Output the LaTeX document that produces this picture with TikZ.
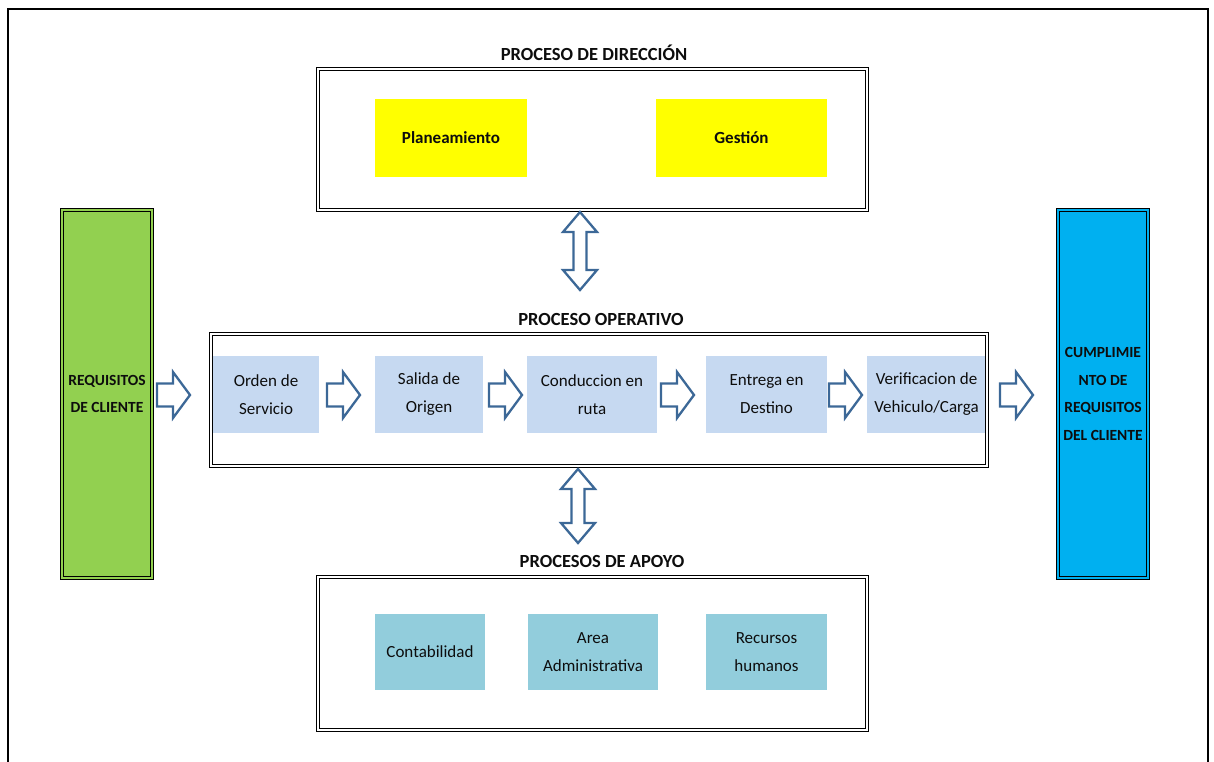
\documentclass[tikz,border=0pt]{standalone}
\usepackage{fontspec}
\setmainfont{Carlito}
\definecolor{reqgreen}{HTML}{92D050}
\definecolor{cumblue}{HTML}{00B0F0}
\definecolor{opblue}{HTML}{C6D9F1}
\definecolor{suppteal}{HTML}{92CDDC}
\definecolor{mgmtyellow}{HTML}{FFFF00}
\definecolor{arrowblue}{HTML}{3C6897}
\definecolor{ink}{HTML}{0D0D0D}
\begin{document}
\begin{tikzpicture}[x=1pt,y=-1pt,
  frame/.style={draw=black, line width=1.3pt, double=#1, double distance=1.5pt,
    inner sep=0pt, outer sep=0pt, align=center, text=ink},
  frame/.default=white,
  cell/.style={inner sep=0pt, outer sep=0pt, align=center, text=ink,
    font=\fontsize{17}{28}\selectfont},
  boldcell/.style={cell, font=\bfseries\fontsize{17}{28}\selectfont},
  sidebox/.style={font=\bfseries\fontsize{15.5}{27.5}\selectfont},
  title/.style={font=\bfseries\fontsize{18.5}{22}\selectfont, text=ink, inner sep=0pt},
  arrowline/.style={draw=arrowblue, fill=white, line width=2.3pt, line join=miter},
  flowarrow/.pic={
    \draw[arrowline] (0,-11.5) -- (16,-11.5) -- (16,-23) -- (33,0) -- (16,23)
      -- (16,11.5) -- (0,11.5) -- cycle;
  },
  linkarrow/.pic={
    \draw[arrowline] (0,0) -- (17,20) -- (6.5,20) -- (6.5,{#1-20}) -- (17,{#1-20})
      -- (0,#1) -- (-17,{#1-20}) -- (-6.5,{#1-20}) -- (-6.5,20) -- (-17,20) -- cycle;
  }
]
\useasboundingbox (0,0) rectangle (1214,762);

% page frame
\draw[line width=2.5pt] (8,762) -- (8,9) -- (1208,9) -- (1208,762);

% side columns
\node[frame=reqgreen, fill=reqgreen, minimum width=90, minimum height=368, sidebox]
  (req) at (107,394) {REQUISITOS\\DE CLIENTE};
\node[frame=cumblue, fill=cumblue, minimum width=90, minimum height=368, sidebox]
  (cump) at (1103,394) {CUMPLIMIE\\NTO DE\\REQUISITOS\\DEL CLIENTE};

% management process
\node[title] (tdir) at (594,53) {PROCESO DE DIRECCIÓN};
\node[boldcell, fill=mgmtyellow, minimum width=152, minimum height=78] (plan) at (451,138) {Planeamiento};
\node[boldcell, fill=mgmtyellow, minimum width=171, minimum height=78] (gest) at (741.5,138) {Gestión};
\node[frame, minimum width=549, minimum height=141] (dir) at (592.5,139.5) {};

% operational process
\node[title] (toper) at (601,319) {PROCESO OPERATIVO};
\node[cell, fill=opblue, minimum width=106, minimum height=77] (orden) at (266,394.5) {Orden de\\Servicio};
\node[cell, fill=opblue, minimum width=108, minimum height=77] (salida) at (429,394.5) {Salida de\\Origen};
\node[cell, fill=opblue, minimum width=130, minimum height=77] (cond) at (592,394.5) {Conduccion en\\ruta};
\node[cell, fill=opblue, minimum width=121, minimum height=77] (entrega) at (766.5,394.5) {Entrega en\\Destino};
\node[cell, fill=opblue, minimum width=119, minimum height=77] (verif) at (926.5,394.5) {Verificacion de\\Vehiculo/Carga};
\node[frame, minimum width=776, minimum height=132] (oper) at (599,400) {};

% support processes
\node[title] (tapoyo) at (602,561) {PROCESOS DE APOYO};
\node[cell, fill=suppteal, minimum width=110, minimum height=76] (conta) at (430,652) {Contabilidad};
\node[cell, fill=suppteal, minimum width=130, minimum height=76] (area) at (593,652) {Area\\Administrativa};
\node[cell, fill=suppteal, minimum width=121, minimum height=76] (recur) at (766.5,652) {Recursos\\humanos};
\node[frame, minimum width=549, minimum height=153] (apoyo) at (592.5,653.5) {};

% flow arrows along the operational chain
\pic at (157,395) {flowarrow};
\pic at (327,395) {flowarrow};
\pic at (489,395) {flowarrow};
\pic at (661,395) {flowarrow};
\pic at (829,395) {flowarrow};
\pic at (1000,395) {flowarrow};

% links between the process levels
\pic at (580,212) {linkarrow=78};
\pic at (578,469) {linkarrow=74};
\end{tikzpicture}
\end{document}
